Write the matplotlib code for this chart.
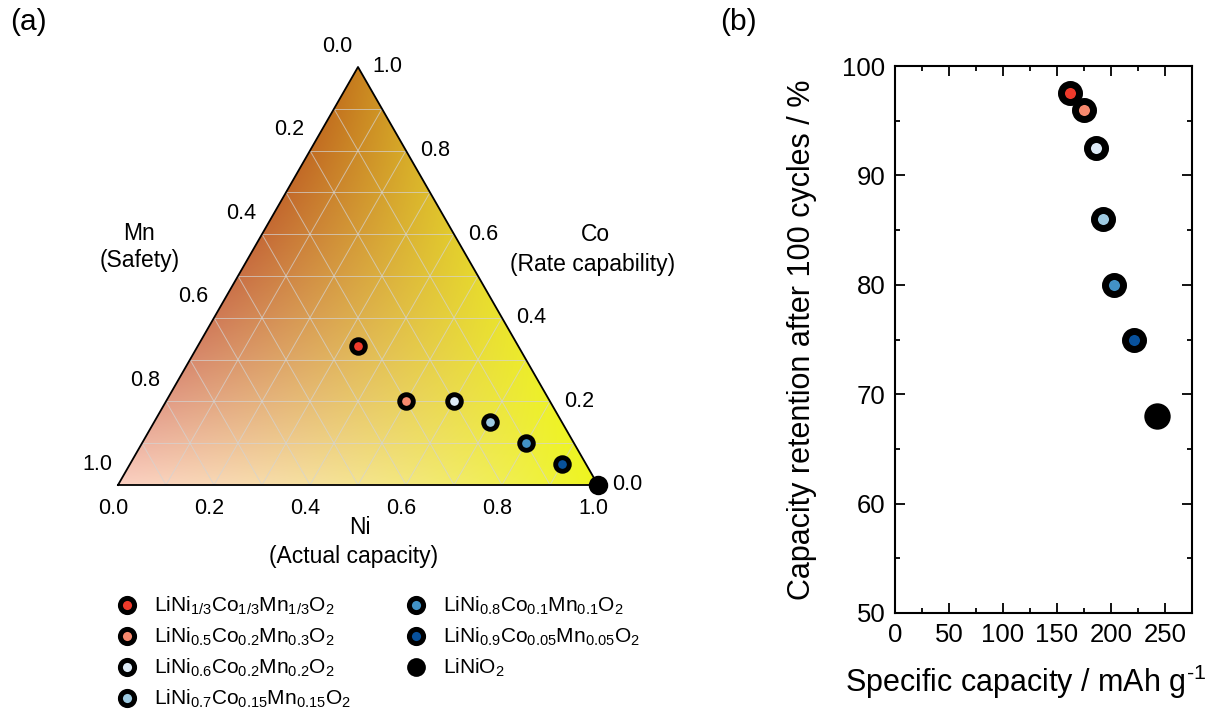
import numpy as np
import matplotlib
matplotlib.use("Agg")
import matplotlib.pyplot as plt
from matplotlib.lines import Line2D
from matplotlib.patches import Polygon
from matplotlib.transforms import offset_copy
from matplotlib.ticker import MultipleLocator

plt.rcParams['font.family'] = ['Liberation Sans', 'DejaVu Sans']
plt.rcParams['mathtext.default'] = 'regular'

# ---------------- data ----------------
labels = [r'LiNi$_{1/3}$Co$_{1/3}$Mn$_{1/3}$O$_2$',
          r'LiNi$_{0.5}$Co$_{0.2}$Mn$_{0.3}$O$_2$',
          r'LiNi$_{0.6}$Co$_{0.2}$Mn$_{0.2}$O$_2$',
          r'LiNi$_{0.7}$Co$_{0.15}$Mn$_{0.15}$O$_2$',
          r'LiNi$_{0.8}$Co$_{0.1}$Mn$_{0.1}$O$_2$',
          r'LiNi$_{0.9}$Co$_{0.05}$Mn$_{0.05}$O$_2$',
          r'LiNiO$_2$']
ni = [1/3, 0.5, 0.6, 0.7, 0.8, 0.9, 1.0]
co = [1/3, 0.2, 0.2, 0.15, 0.1, 0.05, 0.0]
mn = [1/3, 0.3, 0.2, 0.15, 0.1, 0.05, 0.0]
capacity = [162, 175, 186, 193, 203, 221, 243]      # mAh/g
retention = [97.5, 96.0, 92.5, 86.0, 80.0, 75.0, 68.0]  # %
colors = ['#ee3a2b', '#f7896e', '#deebf7', '#9ecae1', '#4292c6', '#08519c', '#000000']

tern_ticks = [0.0, 0.2, 0.4, 0.6, 0.8, 1.0]
tern_ticklabels = ['0.0', '0.2', '0.4', '0.6', '0.8', '1.0']

W, Hpx = 1215, 713
fig = plt.figure(figsize=(W / 100, Hpx / 100), dpi=100)

def fx(px):
    return px / W

def fy(py):
    return 1 - py / Hpx

H = np.sqrt(3) / 2

# ---------------- ternary panel ----------------
axT = fig.add_axes([fx(118), fy(485), 480 / W, (485 - 67) / Hpx])
axT.set_xlim(0, 1)
axT.set_ylim(0, H)
axT.axis('off')

# background gradient (quadratic interpolation over the triangle)
n = 500
xs = np.linspace(0, 1, n)
ys = np.linspace(0, H, n)
X, Y = np.meshgrid(xs, ys)
C = Y / H
N = X - C / 2
M = 1 - N - C
vNi = np.array([0.933, 0.961, 0.118])
vCo = np.array([0.780, 0.500, 0.120])
vMn = np.array([0.985, 0.815, 0.760])
eCoMn = np.array([0.790, 0.440, 0.270])
eNiCo = np.array([0.905, 0.850, 0.180])
eNiMn = np.array([0.960, 0.895, 0.560])
img = np.zeros((n, n, 4))
for k in range(3):
    val = (N * (2 * N - 1) * vNi[k] + C * (2 * C - 1) * vCo[k] + M * (2 * M - 1) * vMn[k]
           + 4 * C * M * eCoMn[k] + 4 * N * C * eNiCo[k] + 4 * N * M * eNiMn[k])
    img[..., k] = np.clip(val, 0, 1)
img[..., 3] = 1.0
tri = Polygon([[0, 0], [1, 0], [0.5, H]], closed=True, facecolor='none', edgecolor='none')
axT.add_patch(tri)
im = axT.imshow(img, extent=[0, 1, 0, H], origin='lower', interpolation='bilinear', aspect='auto')
im.set_clip_path(tri)

# grid lines every 0.1
gkw = dict(color='#d4d4d4', lw=0.7, alpha=0.7, zorder=2)
for v in np.arange(0.1, 1.0, 0.1):
    axT.plot([v / 2, 1 - v / 2], [v * H, v * H], **gkw)
    axT.plot([v, v + (1 - v) / 2], [0, (1 - v) * H], **gkw)
    axT.plot([1 - v, (1 - v) / 2], [0, (1 - v) * H], **gkw)

axT.plot([0, 1, 0.5, 0], [0, 0, H, 0], color='black', lw=1.3, zorder=3, clip_on=False)

# tick labels
tNi = offset_copy(axT.transData, fig=fig, x=-5, y=-23, units='dots')
tMn = offset_copy(axT.transData, fig=fig, x=-21, y=21, units='dots')
tCo = offset_copy(axT.transData, fig=fig, x=14, y=0, units='dots')
for t, lab in zip(tern_ticks, tern_ticklabels):
    axT.text(t, 0, lab, transform=tNi, ha='center', va='center', fontsize=15.5)
    axT.text((1 - t) / 2, (1 - t) * H, lab, transform=tMn, ha='center', va='center', fontsize=15.5)
    axT.text(1 - t / 2, t * H, lab, transform=tCo, ha='left', va='center', fontsize=15.5)

# axis titles
fig.text(fx(139), fy(233), 'Mn', ha='center', va='center', fontsize=16.5)
fig.text(fx(140), fy(261), '(Safety)', ha='center', va='center', fontsize=16.5)
fig.text(fx(595), fy(234), 'Co', ha='center', va='center', fontsize=16.5)
fig.text(fx(593), fy(265), '(Rate capability)', ha='center', va='center', fontsize=16.5)
fig.text(fx(360), fy(527), 'Ni', ha='center', va='center', fontsize=16.5)
fig.text(fx(354), fy(556), '(Actual capacity)', ha='center', va='center', fontsize=16.5)

# composition points
for a, b, c, col in zip(ni, co, mn, colors):
    xx = a + b / 2
    yy = b * H
    if col == '#000000':
        axT.plot(xx, yy, 'o', ms=14, mfc='k', mec='k', mew=0, zorder=5, clip_on=False)
    else:
        axT.plot(xx, yy, 'o', ms=9.8, mfc=col, mec='k', mew=3.5, zorder=5, clip_on=False)

# legend
handles = []
for col in colors:
    if col == '#000000':
        handles.append(Line2D([], [], ls='none', marker='o', ms=13.5, mfc='k', mec='k', mew=0))
    else:
        handles.append(Line2D([], [], ls='none', marker='o', ms=10.2, mfc=col, mec='k', mew=3.6))
fig.legend(handles, labels, loc='upper left', bbox_to_anchor=(fx(116.6), fy(595)), ncol=2,
           frameon=False, fontsize=15, handlelength=1.0, handletextpad=0.8,
           columnspacing=2.6, labelspacing=0.42, borderpad=0, borderaxespad=0)

fig.text(fx(28), fy(22), '(a)', ha='center', va='center', fontsize=21.5)
fig.text(fx(738), fy(22), '(b)', ha='center', va='center', fontsize=21.5)

# ---------------- panel (b) ----------------
axB = fig.add_axes([fx(895), fy(613), 297 / W, (613 - 66) / Hpx])
for xval, yval, col in zip(capacity, retention, colors):
    if col == '#000000':
        axB.plot(xval, yval, 'o', ms=19, mfc='k', mec='k', mew=0, zorder=5)
    else:
        axB.plot(xval, yval, 'o', ms=13, mfc=col, mec='k', mew=5, zorder=5)
axB.set_xlim(0, 275)
axB.set_ylim(50, 100)
axB.xaxis.set_major_locator(MultipleLocator(50))
axB.xaxis.set_minor_locator(MultipleLocator(25))
axB.yaxis.set_major_locator(MultipleLocator(10))
axB.yaxis.set_minor_locator(MultipleLocator(5))
axB.tick_params(which='both', direction='in', top=True, right=True, width=1.3, labelsize=18.5)
axB.tick_params(which='major', length=7, pad=7)
axB.tick_params(which='minor', length=3.5)
for s in axB.spines.values():
    s.set_linewidth(1.5)
axB.set_xlabel('Specific capacity / mAh g$^{\u2010 1}$', fontsize=22)
axB.set_ylabel('Capacity retention after 100 cycles / %', fontsize=22)
axB.xaxis.set_label_coords(0.44, -0.09)
axB.yaxis.set_label_coords(-0.263, 0.5)

fig.savefig('out.png', dpi=100)
